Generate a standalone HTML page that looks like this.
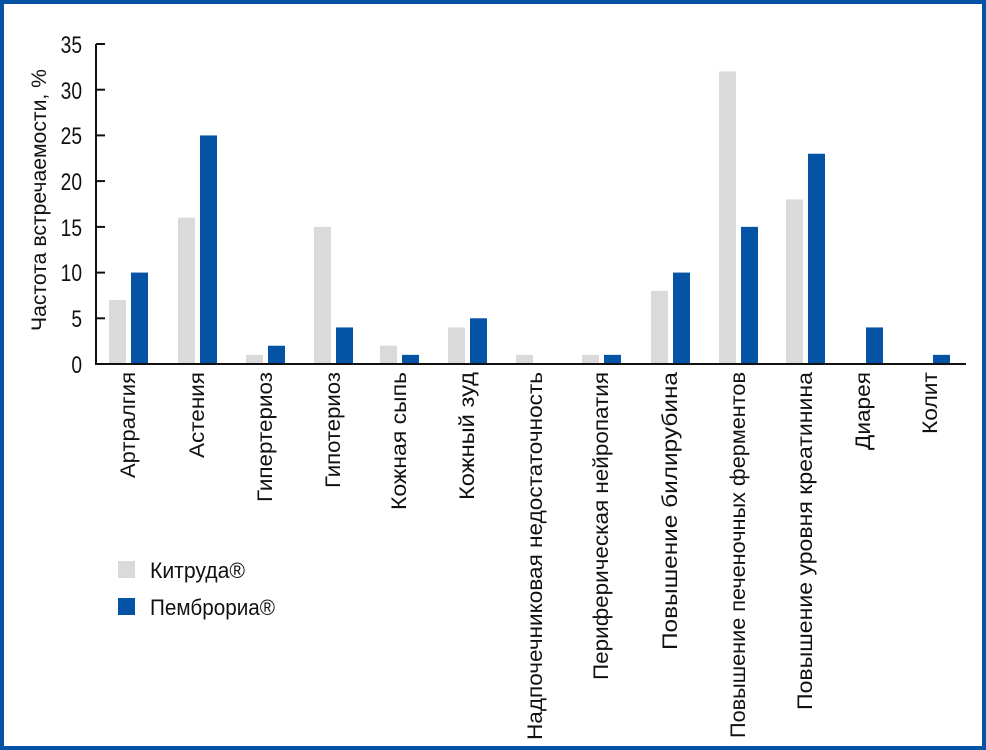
<!DOCTYPE html>
<html><head><meta charset="utf-8"><style>
html,body{margin:0;padding:0;background:#fff}
svg{display:block}
text{font-family:"Liberation Sans",sans-serif;fill:#111}
</style></head><body>
<svg width="986" height="750" viewBox="0 0 986 750" xmlns="http://www.w3.org/2000/svg">
<rect x="2" y="2" width="982" height="746" fill="#fff" stroke="#0553a5" stroke-width="4"/>
<g id="bars"></g>
<line x1="96" y1="44" x2="96" y2="364" stroke="#111" stroke-width="2"/>
<line x1="95" y1="364" x2="966" y2="364" stroke="#111" stroke-width="2"/>
<g stroke="#111" stroke-width="2">
<line x1="96" y1="44" x2="105" y2="44"/><line x1="96" y1="89.7" x2="105" y2="89.7"/>
<line x1="96" y1="135.4" x2="105" y2="135.4"/><line x1="96" y1="181.1" x2="105" y2="181.1"/>
<line x1="96" y1="226.9" x2="105" y2="226.9"/><line x1="96" y1="272.6" x2="105" y2="272.6"/>
<line x1="96" y1="318.3" x2="105" y2="318.3"/>
</g>
<g font-size="24" text-anchor="end" transform="translate(82,0) scale(0.8,1)">
<text x="0" y="53">35</text><text x="0" y="99">30</text><text x="0" y="144">25</text>
<text x="0" y="190">20</text><text x="0" y="236">15</text><text x="0" y="281">10</text>
<text x="0" y="327">5</text><text x="0" y="373">0</text>
</g>
<text transform="translate(46,200) rotate(-90)" font-size="21" text-anchor="middle" textLength="262" lengthAdjust="spacingAndGlyphs">Частота встречаемости, %</text>
<g font-size="21" text-anchor="end" id="labels"></g>
<rect x="118" y="561" width="17" height="17" fill="#dadada"/>
<text x="150" y="578" font-size="22" textLength="95" lengthAdjust="spacingAndGlyphs">Китруда®</text>
<rect x="118" y="598" width="17" height="17" fill="#0553a5"/>
<text x="150" y="615" font-size="22" textLength="125" lengthAdjust="spacingAndGlyphs">Пемброриа®</text>
<script>
var bx=[131,200,268,336,402,470,538,604,673,741,808,866,933];
var g=[7,16,1,15,2,4,1,1,8,32,18,0,0];
var b=[10,25,2,4,1,5,0,1,10,15,23,4,1];
var names=["Артралгия","Астения","Гипертериоз","Гипотериоз","Кожная сыпь","Кожный зуд","Надпочечниковая недостаточность","Периферическая нейропатия","Повышение билирубина","Повышение печеночных ферментов","Повышение уровня креатинина","Диарея","Колит"];
var ends=[478,458,502,488,510,500,740,680,650,738,710,450,434];
var s=320/35,ns="http://www.w3.org/2000/svg",B=document.getElementById("bars"),L=document.getElementById("labels");
function r(x,v,c){if(!v)return;var e=document.createElementNS(ns,"rect");e.setAttribute("x",x);e.setAttribute("width",17);e.setAttribute("y",364-v*s);e.setAttribute("height",v*s);e.setAttribute("fill",c);B.appendChild(e);}
for(var i=0;i<13;i++){r(bx[i]-22,g[i],"#dadada");r(bx[i],b[i],"#0553a5");
var t=document.createElementNS(ns,"text");var cx=bx[i]+4;
t.setAttribute("transform","translate("+cx+",372) rotate(-90)");
t.setAttribute("textLength",ends[i]-372);t.setAttribute("lengthAdjust","spacingAndGlyphs");
t.textContent=names[i];L.appendChild(t);}
</script>
</svg>
</body></html>
